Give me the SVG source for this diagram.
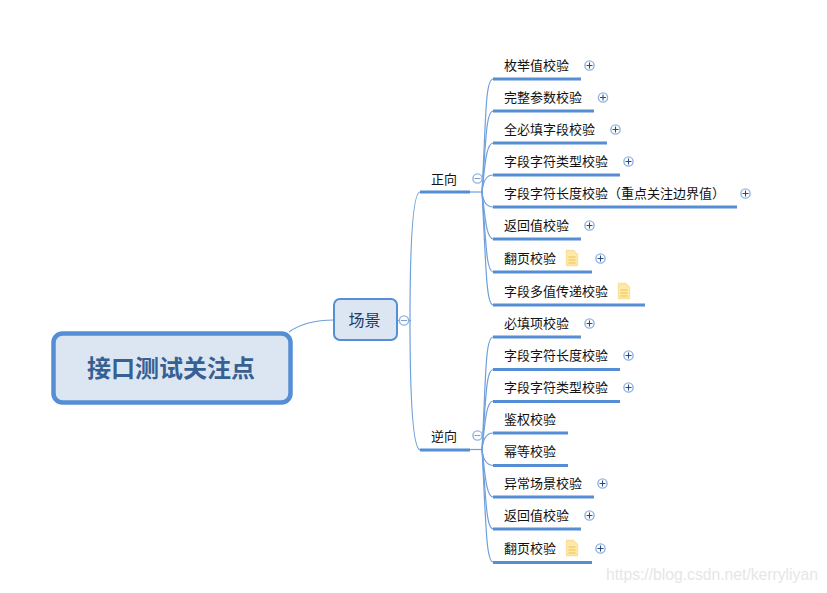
<svg xmlns="http://www.w3.org/2000/svg" width="827" height="593" viewBox="0 0 827 593">
<style>
text{font-family:"Noto Sans CJK SC","Liberation Sans",sans-serif;fill:#111}
.l{font-size:13px}
.u{fill:none;stroke:#558ed5;stroke-width:3}
.c{fill:none;stroke:#6f9fdc;stroke-width:1.2}
.o{fill:#fff;stroke:#8fb4e3;stroke-width:1.4}
.s{stroke:#2f4a78;stroke-width:1.1;fill:none}
.m{stroke:#7f9fc8;stroke-width:1.1;fill:none}
.d{fill:#fde9a9;stroke:#fbe09a;stroke-width:1.3}
.e{stroke:#f5cf6a;stroke-width:1.5}
</style>
<defs>
<g id="plus"><circle class="o" r="4.600"/><path class="s" d="M-3 0H3M0-3V3"/></g>
<g id="minus"><circle class="o" r="4.600"/><path class="m" d="M-3 0H3"/></g>
<g id="doc"><path class="d" d="M-5.500-7.500H1.500L5.500-3.500V7.500H-5.500Z"/><path class="e" d="M-3.500-1H3.500M-3.500 2H3.500M-3.500 5H3.500"/></g>
</defs>
<rect width="827" height="593" fill="#fff"/>
<g id="connectors">
<path class="c" d="M289 332C300 324 315 320 334 320"/>
<path class="c" d="M397 320.500H411"/>
<path class="c" d="M420 192C413 193 410 240 410 320.500C410 401 413 448 420 450"/>
<path class="c" d="M470 192H482"/>
<path class="c" d="M470 449.500H482"/>
<path class="c" d="M493 79C485 80 486 120 482 192"/>
<path class="c" d="M493 111C486 112 486 140 482 192"/>
<path class="c" d="M493 143C486 144 485 165 482 192"/>
<path class="c" d="M493 175C487 175 483 181 482 192"/>
<path class="c" d="M493 207C487 207 483 202 482 192"/>
<path class="c" d="M493 239C486 238 485 215 482 192"/>
<path class="c" d="M493 272C486 271 486 240 482 192"/>
<path class="c" d="M493 305C486 304 486 265 482 192"/>
<path class="c" d="M493 337C485 338 486 378 482 449.500"/>
<path class="c" d="M493 369.500C486 370 486 398 482 449.500"/>
<path class="c" d="M493 401C486 402 485 423 482 449.500"/>
<path class="c" d="M493 433C487 433 483 439 482 449.500"/>
<path class="c" d="M493 465.500C487 465 483 460 482 449.500"/>
<path class="c" d="M493 497C486 496 485 473 482 449.500"/>
<path class="c" d="M493 529C486 528 486 498 482 449.500"/>
<path class="c" d="M493 562C486 561 486 523 482 449.500"/>
</g>
<g id="root"><rect x="53.500" y="333.500" width="237" height="69" rx="9" fill="#dce6f2" stroke="#558ed5" stroke-width="4.500"/><text x="171" y="377" text-anchor="middle" style="font-size:24px;font-weight:700;fill:#376092">接口测试关注点</text></g>
<g id="scene"><rect x="334" y="299" width="63" height="41" rx="6" fill="#dce6f2" stroke="#558ed5" stroke-width="2"/><text x="364.500" y="325.500" text-anchor="middle" style="font-size:16px;fill:#1f3864">场景</text><use href="#minus" x="404" y="320.500"/></g>
<g id="forward"><text class="l" x="431" y="184">正向</text><path class="u" d="M420 192H470"/><use href="#minus" x="477.500" y="178.500"/></g>
<g id="reverse"><text class="l" x="431" y="441">逆向</text><path class="u" d="M420 450H470"/><use href="#minus" x="477.500" y="435.500"/></g>
<g id="f1"><text class="l" x="504" y="70">枚举值校验</text><path class="u" d="M493 79H581"/><use href="#plus" x="589.500" y="65.500"/></g>
<g id="f2"><text class="l" x="504" y="102">完整参数校验</text><path class="u" d="M493 111H594"/><use href="#plus" x="603" y="97.500"/></g>
<g id="f3"><text class="l" x="504" y="134">全必填字段校验</text><path class="u" d="M493 143H607"/><use href="#plus" x="615.500" y="129.500"/></g>
<g id="f4"><text class="l" x="504" y="166">字段字符类型校验</text><path class="u" d="M493 175H620"/><use href="#plus" x="628.500" y="161.500"/></g>
<g id="f5"><text class="l" x="504" y="198">字段字符长度校验（重点关注边界值）</text><path class="u" d="M493 207H737"/><use href="#plus" x="745.500" y="193.500"/></g>
<g id="f6"><text class="l" x="504" y="230">返回值校验</text><path class="u" d="M493 239H581"/><use href="#plus" x="589.500" y="225.500"/></g>
<g id="f7"><text class="l" x="504" y="263">翻页校验</text><path class="u" d="M493 272H592"/><use href="#doc" x="572" y="258"/><use href="#plus" x="600.500" y="258.500"/></g>
<g id="f8"><text class="l" x="504" y="296">字段多值传递校验</text><path class="u" d="M493 305H645"/><use href="#doc" x="624" y="291"/></g>
<g id="r1"><text class="l" x="504" y="328">必填项校验</text><path class="u" d="M493 337H581"/><use href="#plus" x="589.500" y="323.500"/></g>
<g id="r2"><text class="l" x="504" y="360">字段字符长度校验</text><path class="u" d="M493 369.500H620"/><use href="#plus" x="628.500" y="355.500"/></g>
<g id="r3"><text class="l" x="504" y="392">字段字符类型校验</text><path class="u" d="M493 401.500H620"/><use href="#plus" x="628.500" y="387.500"/></g>
<g id="r4"><text class="l" x="504" y="424">鉴权校验</text><path class="u" d="M493 433H568"/></g>
<g id="r5"><text class="l" x="504" y="456">幂等校验</text><path class="u" d="M493 465.500H568"/></g>
<g id="r6"><text class="l" x="504" y="488">异常场景校验</text><path class="u" d="M493 497H594"/><use href="#plus" x="602.500" y="483.500"/></g>
<g id="r7"><text class="l" x="504" y="520">返回值校验</text><path class="u" d="M493 529H581"/><use href="#plus" x="589.500" y="515.500"/></g>
<g id="r8"><text class="l" x="504" y="553">翻页校验</text><path class="u" d="M493 562.500H592"/><use href="#doc" x="572" y="548"/><use href="#plus" x="600.500" y="548.500"/></g>
<text x="606" y="580" style="font-family:'Liberation Sans',sans-serif;font-size:15.700px;fill:#e6e6e6">https://blog.csdn.net/kerryliyan</text>
</svg>
